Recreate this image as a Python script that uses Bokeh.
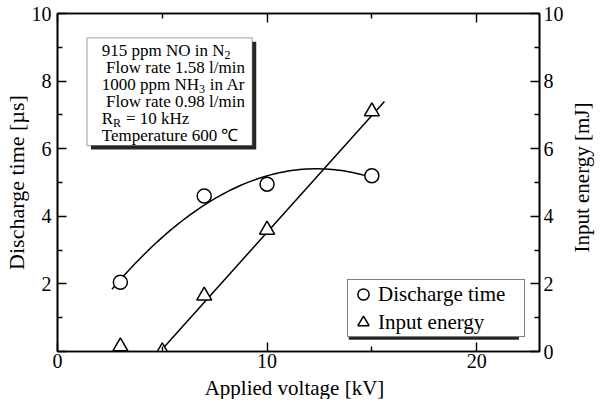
import numpy as np
from bokeh.plotting import figure
from bokeh.layouts import row, column
from bokeh.core.properties import value
from bokeh.models import (LinearAxis, Range1d, FixedTicker, BoxAnnotation, Label,
                          Legend, LegendItem)
from bokeh.embed import file_html
from bokeh.resources import INLINE

# ---------------- data ----------------
voltage = [3, 7, 10, 15]                      # Applied voltage [kV]
discharge_time = [2.05, 4.6, 4.95, 5.2]       # Discharge time [us]
energy_voltage = [3, 5, 7, 10, 15]            # Applied voltage [kV]
input_energy = [0.15, 0.0, 1.65, 3.6, 7.1]    # Input energy [mJ]
dt_fit_span = [2.6, 14.8]                     # extent of the quadratic fit curve
energy_fit_x = [4.9, 15.6]                    # drawn linear fit of input energy
energy_fit_y = [0.0, 7.4]
x_major = [0, 10, 20]
x_minor = [5, 15]
y_major = [0, 2, 4, 6, 8, 10]
y_minor = [1, 3, 5, 7, 9]
x_title, y_title, y2_title = "Applied voltage [kV]", "Discharge time [\u00b5s]", "Input energy [mJ]"
note_lines = ["915 ppm NO in N", "Flow rate 1.58 l/min", "1000 ppm NH", "Flow rate 0.98 l/min",
              "R", "Temperature 600 \u2103"]

X_END, Y_END = 23.0, 10.0
FONT = "Liberation Serif"

# sizes of the three canvases (main plot, right title strip, bottom title strip)
W_MAIN, W_RIGHT, H_MAIN, H_BOTTOM = 567, 28, 375, 24

# reference geometry (page px) used only to place the annotations in data space
REF_X0, REF_PXX = 62.0, 21.3
REF_Y0, REF_PXY = 365.0, 34.8


def dx(px):
    return (px - REF_X0) / REF_PXX


def dy(py):
    return (REF_Y0 - py) / REF_PXY


p = figure(width=W_MAIN, height=H_MAIN, x_range=Range1d(0, X_END), y_range=Range1d(0, Y_END),
           output_backend="svg", toolbar_location=None,
           min_border_left=55, min_border_right=28, min_border_top=13, min_border_bottom=24)
p.extra_y_ranges = {"energy": Range1d(0, 10)}
p.xgrid.visible = False
p.ygrid.visible = False
p.outline_line_color = "black"
p.outline_line_width = 1.6
p.background_fill_color = "white"
p.border_fill_color = "white"


def style(ax, ticks, minor, size="20px"):
    ax.ticker = FixedTicker(ticks=ticks, minor_ticks=minor)
    ax.major_tick_in = 9
    ax.major_tick_out = 0
    ax.minor_tick_in = 5
    ax.minor_tick_out = 0
    ax.axis_line_width = 1.6
    ax.axis_line_color = "black"
    ax.major_tick_line_color = "black"
    ax.major_tick_line_width = 1.4
    ax.minor_tick_line_color = "black"
    ax.minor_tick_line_width = 1.4
    ax.major_label_text_font = FONT
    ax.major_label_text_font_size = size
    ax.major_label_text_color = "black"
    ax.axis_label_text_font = FONT
    ax.axis_label_text_font_size = "22px"
    ax.axis_label_text_font_style = "normal"
    ax.axis_label_text_color = "black"


xa = p.xaxis[0]
style(xa, x_major, x_minor)
xa.major_label_standoff = 2
xa.major_label_text_line_height = 0.9

ya = p.yaxis[0]
style(ya, y_major, y_minor)
ya.axis_label = y_title
ya.major_label_standoff = 6
ya.axis_label_standoff = 0
ya.major_label_overrides = {0: ""}

ra = LinearAxis(y_range_name="energy")
style(ra, y_major, y_minor)
ra.major_label_standoff = 4
p.add_layout(ra, "right")

ta = LinearAxis()
style(ta, x_major, x_minor, size="1px")
ta.major_label_standoff = 0
ta.major_label_overrides = {0: "", 10: "", 20: ""}
p.add_layout(ta, "above")

# ---------------- fitted curves ----------------
coef = np.polyfit(voltage, discharge_time, 2)
xs = np.linspace(dt_fit_span[0], dt_fit_span[1], 80)
p.line(xs, np.polyval(coef, xs), line_color="black", line_width=1.5)
p.line(energy_fit_x, energy_fit_y, line_color="black", line_width=1.5, y_range_name="energy")

# ---------------- markers ----------------
r_dt = p.scatter(voltage, discharge_time, marker="circle", size=14, fill_color="white",
                 line_color="black", line_width=1.5)
r_en = p.scatter(energy_voltage, input_energy, marker="triangle", size=15, fill_color="white",
                 line_color="black", line_width=1.5, y_range_name="energy")

# ---------------- note box (with drop shadow) ----------------
p.quad(left=[dx(96)], right=[dx(264)], top=[dy(46)], bottom=[dy(157)],
       fill_color="black", fill_alpha=0.85, line_color=None)
p.add_layout(BoxAnnotation(left=dx(92), right=dx(260), top=dy(42), bottom=dy(153),
                           fill_color="white", fill_alpha=1, line_color="black", line_width=1.3))

tx, ty0, step = dx(107), dy(55), 17.0
indent = {1: 4.3, 3: 4.3}
for i, t in enumerate(note_lines):
    p.add_layout(Label(x=tx, y=ty0, x_offset=indent.get(i, 0), y_offset=-step * i, text=t,
                       text_font=FONT, text_font_size="17px", text_color="black",
                       text_baseline="middle", text_align="left"))


def piece(line, xoff, txt, size="17px", yoff=0):
    p.add_layout(Label(x=tx, y=ty0, x_offset=xoff, y_offset=-step * line + yoff, text=txt,
                       text_font=FONT, text_font_size=size, text_color="black",
                       text_baseline="middle", text_align="left"))


piece(0, 7.222 * 17, "2", "12px", -5)
piece(2, 5.722 * 17, "3", "12px", -5)
piece(2, 5.722 * 17 + 6.5 + 4.3, "in Ar")
piece(4, 0.667 * 17, "R", "12px", -5)
piece(4, 0.667 * 17 + 8.5 + 4.3, "= 10 kHz")

# ---------------- legend (with drop shadow) ----------------
p.quad(left=[dx(358)], right=[dx(531)], top=[dy(297)], bottom=[dy(353)],
       fill_color="black", fill_alpha=0.85, line_color=None)
legend = Legend(items=[LegendItem(label="Discharge time", renderers=[r_dt]),
                       LegendItem(label="Input energy", renderers=[r_en])],
                location=(290, 14), margin=0, padding=0, spacing=0,
                glyph_width=30, glyph_height=28, label_standoff=0, label_width=146,
                label_height=28,
                label_text_font=FONT, label_text_font_size="21px", label_text_color="black",
                border_line_color="black", border_line_width=1.3,
                background_fill_color="white", background_fill_alpha=1)
p.add_layout(legend)


# ---------------- title strips (right axis title, x axis title) ----------------
def strip(w, h):
    f = figure(width=w, height=h, x_range=Range1d(0, w), y_range=Range1d(0, h),
               output_backend="svg", toolbar_location=None, x_axis_type=None, y_axis_type=None,
               min_border_left=0, min_border_right=0, min_border_top=0, min_border_bottom=0)
    f.outline_line_color = None
    f.background_fill_color = "white"
    f.border_fill_color = "white"
    f.grid.visible = False
    return f


q = strip(W_RIGHT, H_MAIN)
q.text(x=[W_RIGHT / 2], y=[H_MAIN - 182], text=[y2_title], angle=np.pi / 2, text_align="center",
       text_baseline="middle", text_font=value(FONT), text_font_size="21px", text_color="black")

r = strip(W_MAIN + W_RIGHT, H_BOTTOM)
r.text(x=[294], y=[H_BOTTOM / 2], text=[x_title], text_align="center",
       text_baseline="middle", text_font=value(FONT), text_font_size="21px", text_color="black")

layout = column(row(p, q, spacing=0), r, spacing=0)

open("out.html", "w").write(file_html(layout, INLINE))
